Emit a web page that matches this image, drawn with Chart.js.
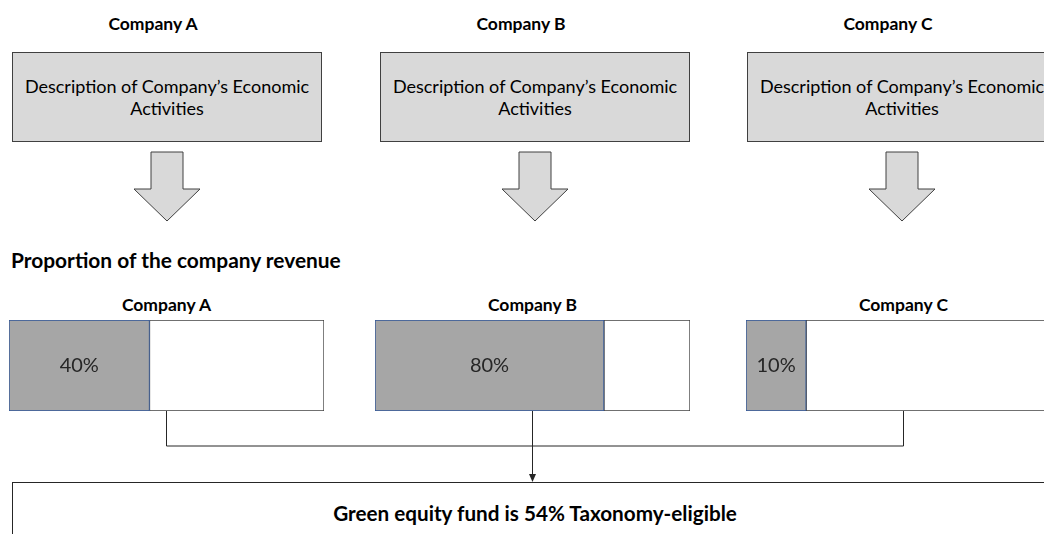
<!DOCTYPE html>
<html>
<head>
<meta charset="utf-8">
<script src="https://cdn.jsdelivr.net/npm/chart.js@4"></script>
<style>
  html, body { margin: 0; padding: 0; }
  body { width: 1044px; height: 534px; overflow: hidden; position: relative; background: #fff; font-family: "Lato", "Open Sans", sans-serif; color: #000; }
  .abs { position: absolute; }
  .title { width: 200px; text-align: center; font-weight: bold; font-size: 17.5px; }
  .desc { width: 310px; height: 90px; box-sizing: border-box; background: #d9d9d9; border: 1px solid #404040;
          display: flex; align-items: center; justify-content: center; text-align: center; font-size: 18px; line-height: 22px; white-space: nowrap; }
  .bar { height: 91px; }
  #heading { left: 11px; top: 247px; font-weight: bold; font-size: 20.9px; }
  #fund { left: 12px; top: 482px; width: 1100px; height: 80px; box-sizing: border-box; border: 1.5px solid #262626; border-right: none; }
  #fundText { left: 0; width: 1070px; top: 501px; text-align: center; font-weight: bold; font-size: 20.7px; }
  svg { position: absolute; left: 0; top: 0; }
</style>
</head>
<body>
<svg id="lines" width="1044" height="534"></svg>
<div id="heading" class="abs">Proportion of the company revenue</div>
<div id="fund" class="abs"></div>
<div id="fundText" class="abs">Green equity fund is 54% Taxonomy-eligible</div>
<script>
// companies and their taxonomy-eligible share of revenue
const companies = ['Company A', 'Company B', 'Company C'];
const shareLabels = ['40%', '80%', '10%'];
// drawn bar lengths (percent of bar)
const eligibleDrawn = [44.6, 72.7, 19.1];
const remainderDrawn = [55.4, 27.3, 80.9];
const descText = ['Description of Company\u2019s Economic', 'Activities'];

// layout
const boxCenters = [167, 535, 902];
const barLeft = [9, 375, 746];
const barWidth = 315;
const barTop = 320;
const barBottom = 411;
const linkY = 446;
const fundTop = 482;

const body = document.body;
const svg = document.getElementById('lines');
const NS = 'http://www.w3.org/2000/svg';

function svgEl(tag, attrs) {
    const el = document.createElementNS(NS, tag);
    Object.entries(attrs).forEach(([k, v]) => el.setAttribute(k, v));
    svg.appendChild(el);
    return el;
}

companies.forEach((name, i) => {
    const c = boxCenters[i];

    // top titles (sit a little left of the boxes)
    const t = document.createElement('div');
    t.className = 'abs title';
    t.style.left = (c - 14 - 100) + 'px';
    t.style.top = '13px';
    t.textContent = name;
    body.appendChild(t);

    // description box
    const d = document.createElement('div');
    d.className = 'abs desc';
    d.style.left = (c - 155) + 'px';
    d.style.top = '52px';
    d.innerHTML = descText.join('<br>');
    body.appendChild(d);

    // block arrow
    svgEl('polygon', {
        points: [[c - 16, 152], [c + 16, 152], [c + 16, 189], [c + 33, 189], [c, 221], [c - 33, 189], [c - 16, 189]]
            .map(p => p.join(',')).join(' '),
        fill: '#d9d9d9', stroke: '#404040', 'stroke-width': 1
    });

    // second row title
    const t2 = document.createElement('div');
    t2.className = 'abs title';
    t2.style.left = (barLeft[i] + barWidth / 2 - 100) + 'px';
    t2.style.top = '294px';
    t2.textContent = name;
    body.appendChild(t2);

    // bar chart container
    const wrap = document.createElement('div');
    wrap.className = 'abs bar';
    wrap.style.left = barLeft[i] + 'px';
    wrap.style.top = barTop + 'px';
    wrap.style.width = barWidth + 'px';
    const cv = document.createElement('canvas');
    wrap.appendChild(cv);
    body.appendChild(wrap);

    renderBar(cv, i);

    // connector down from bar centre
    const mid = barLeft[i] + barWidth / 2;
    svgEl('line', { x1: mid, y1: barBottom, x2: mid, y2: i === 1 ? fundTop - 7 : linkY, stroke: '#262626', 'stroke-width': 1 });
});

// horizontal connector and arrow head into fund box
const mids = barLeft.map(l => l + barWidth / 2);
svgEl('line', { x1: mids[0], y1: linkY, x2: mids[2], y2: linkY, stroke: '#262626', 'stroke-width': 1 });
svgEl('polygon', { points: `${mids[1] - 3.5},${fundTop - 8} ${mids[1] + 3.5},${fundTop - 8} ${mids[1]},${fundTop}`, fill: '#262626' });

function renderBar(canvas, i) {
    const labelPlugin = {
        id: 'shareLabel',
        afterDatasetsDraw(chart) {
            const el = chart.getDatasetMeta(0).data[0];
            const ctx = chart.ctx;
            ctx.save();
            ctx.font = '20px Lato';
            ctx.fillStyle = '#262626';
            ctx.textAlign = 'center';
            ctx.textBaseline = 'middle';
            ctx.fillText(shareLabels[i], (el.base + el.x) / 2, el.y);
            ctx.restore();
        }
    };

    new Chart(canvas, {
        type: 'bar',
        data: {
            labels: [companies[i]],
            datasets: [
                { data: [eligibleDrawn[i]], backgroundColor: '#a6a6a6', borderColor: '#2f5597', borderWidth: 1, borderSkipped: false },
                { data: [remainderDrawn[i]], backgroundColor: '#ffffff', borderColor: '#404040', borderWidth: 1, borderSkipped: false }
            ]
        },
        options: {
            indexAxis: 'y',
            responsive: true,
            maintainAspectRatio: false,
            animation: false,
            layout: { padding: 0 },
            datasets: { bar: { barPercentage: 1, categoryPercentage: 1 } },
            scales: {
                x: { stacked: true, min: 0, max: 100, display: false },
                y: { stacked: true, display: false }
            },
            plugins: { legend: { display: false }, tooltip: { enabled: false } }
        },
        plugins: [labelPlugin]
    });
}
</script>
</body>
</html>
